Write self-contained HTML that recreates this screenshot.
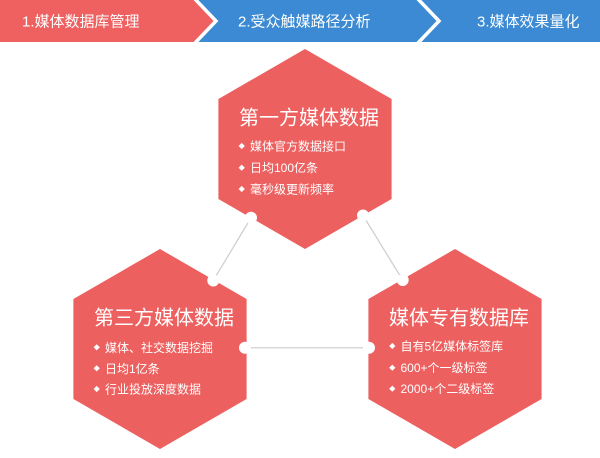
<!DOCTYPE html>
<html>
<head>
<meta charset="utf-8">
<style>
  html, body { margin: 0; padding: 0; background: #ffffff; }
  body { width: 600px; height: 458px; overflow: hidden; }
  svg { display: block; }
  text { font-family: "Liberation Sans", "Noto Sans CJK SC", "WenQuanYi Zen Hei", sans-serif; fill: #ffffff; }
</style>
</head>
<body>
<svg width="600" height="458" viewBox="0 0 600 458" xmlns="http://www.w3.org/2000/svg">
  <!-- Header -->
  <rect x="0" y="0" width="600" height="42" fill="#3b8ad3"/>
  <polygon points="0,0 195,0 215,21 195,42 0,42" fill="#ef6060"/>
  <polyline points="195,-1 216,21 195,43" fill="none" stroke="#ffffff" stroke-width="3.5"/>
  <polyline points="418,-1 439,21 418,43" fill="none" stroke="#ffffff" stroke-width="3.5"/>
  <text x="22" y="26.5" font-size="15">1.媒体数据库管理</text>
  <text x="238" y="26.5" font-size="15">2.受众触媒路径分析</text>
  <text x="477" y="26.5" font-size="15">3.媒体效果量化</text>

  <!-- Connector lines -->
  <line x1="251" y1="217.8" x2="213.3" y2="280.5" stroke="#cccccc" stroke-width="1.2"/>
  <line x1="363" y1="215.5" x2="402.7" y2="280" stroke="#cccccc" stroke-width="1.2"/>
  <line x1="245" y1="347.8" x2="369" y2="347.8" stroke="#cccccc" stroke-width="1.2"/>

  <!-- Hexagons -->
  <polygon points="305,49 391.6,99 391.6,199 305,249 218.4,199 218.4,99" fill="#ed6060"/>
  <polygon points="160,249 246.6,299 246.6,399 160,449 73.4,399 73.4,299" fill="#ed6060"/>
  <polygon points="455,249 541.6,299 541.6,399 455,449 368.4,399 368.4,299" fill="#ed6060"/>

  <!-- Notch circles -->
  <circle cx="251" cy="217.8" r="6" fill="#ffffff"/>
  <circle cx="363" cy="215.5" r="6" fill="#ffffff"/>
  <circle cx="213.3" cy="280.5" r="6" fill="#ffffff"/>
  <circle cx="402.7" cy="280" r="6" fill="#ffffff"/>
  <circle cx="245" cy="347.8" r="6" fill="#ffffff"/>
  <circle cx="369" cy="347.8" r="6" fill="#ffffff"/>

  <!-- Top hexagon text -->
  <text x="239" y="124.5" font-size="20">第一方媒体数据</text>
  <g fill="#ffffff">
    <rect x="239.5" y="143.8" width="4.4" height="4.4" transform="rotate(45 241.7 146)"/>
    <rect x="239.5" y="165.5" width="4.4" height="4.4" transform="rotate(45 241.7 167.7)"/>
    <rect x="239.5" y="186.8" width="4.4" height="4.4" transform="rotate(45 241.7 189)"/>
  </g>
  <text x="250" y="150.5" font-size="12">媒体官方数据接口</text>
  <text x="250" y="172.2" font-size="12">日均100亿条</text>
  <text x="250" y="193.5" font-size="12">毫秒级更新频率</text>

  <!-- Left hexagon text -->
  <text x="94" y="324.7" font-size="20">第三方媒体数据</text>
  <g fill="#ffffff">
    <rect x="94.5" y="345.1" width="4.4" height="4.4" transform="rotate(45 96.7 347.3)"/>
    <rect x="94.5" y="366.1" width="4.4" height="4.4" transform="rotate(45 96.7 368.3)"/>
    <rect x="94.5" y="386.8" width="4.4" height="4.4" transform="rotate(45 96.7 389)"/>
  </g>
  <text x="105" y="351.8" font-size="12">媒体、社交数据挖掘</text>
  <text x="105" y="372.8" font-size="12">日均1亿条</text>
  <text x="105" y="393.5" font-size="12">行业投放深度数据</text>

  <!-- Right hexagon text -->
  <text x="389" y="324.7" font-size="20">媒体专有数据库</text>
  <g fill="#ffffff">
    <rect x="390.1" y="343.8" width="4.4" height="4.4" transform="rotate(45 392.3 346)"/>
    <rect x="390.1" y="365.5" width="4.4" height="4.4" transform="rotate(45 392.3 367.7)"/>
    <rect x="390.1" y="386.5" width="4.4" height="4.4" transform="rotate(45 392.3 388.7)"/>
  </g>
  <text x="400.5" y="350.5" font-size="12">自有5亿媒体标签库</text>
  <text x="400.5" y="372.2" font-size="12">600+个一级标签</text>
  <text x="400.5" y="393.2" font-size="12">2000+个二级标签</text>
</svg>
</body>
</html>
